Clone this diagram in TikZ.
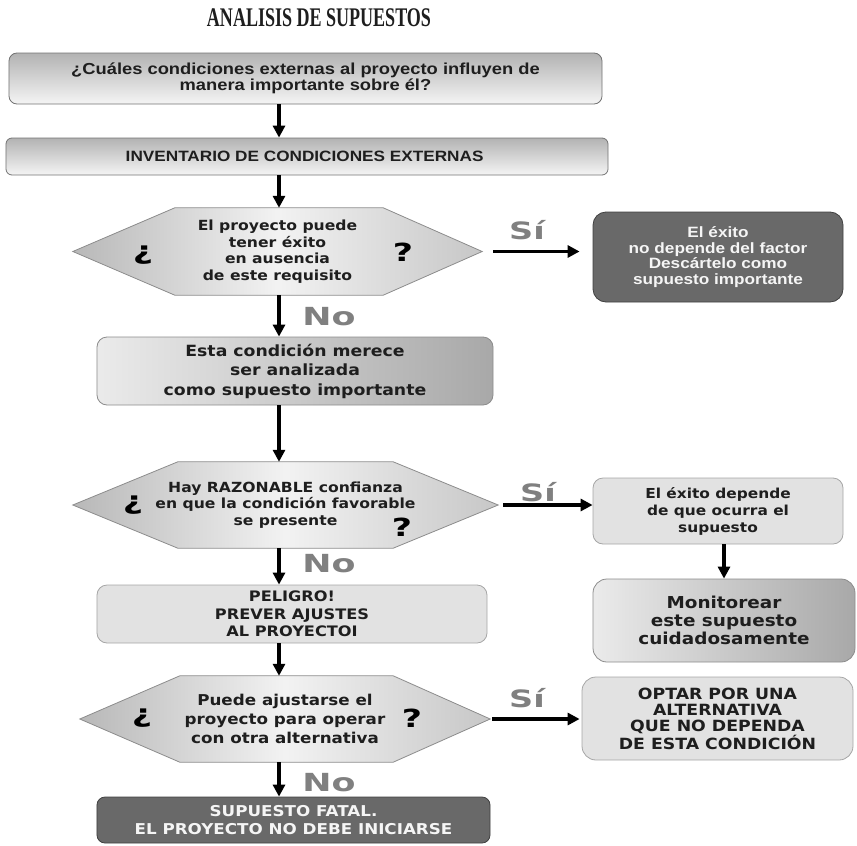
\documentclass[tikz,border=0pt]{standalone}
\usepackage{fontspec}
\usepackage{tikz}
\usetikzlibrary{arrows.meta, positioning, backgrounds}
\pgfdeclarelayer{background}
\pgfsetlayers{background,main}
\setmainfont{Liberation Sans}
\newfontfamily\titlefont[FakeStretch=0.67]{Liberation Serif}
\newfontfamily\broadfont[FakeStretch=1.15]{Liberation Sans}
\newfontfamily\widefont[FakeStretch=1.12]{DejaVu Sans}
\newfontfamily\blackfont[FakeStretch=1.4]{DejaVu Sans}
\definecolor{txtcol}{RGB}{30,30,30}
\definecolor{labcol}{RGB}{128,128,128}
\definecolor{darkcol}{RGB}{105,105,105}
\definecolor{flatcol}{RGB}{226,226,226}
\tikzset{
  gbox/.style={rectangle, rounded corners=8bp, align=center, inner sep=0pt,
    draw=black!55, line width=0.8bp, top color=black!30, bottom color=black!4,
    text=txtcol},
  sbox/.style={rectangle, rounded corners=10bp, align=center, inner sep=0pt,
    draw=black!45, line width=0.8bp, left color=black!8, right color=black!34,
    text=txtcol},
  flat/.style={rectangle, rounded corners=10bp, align=center, inner sep=0pt,
    draw=black!35, line width=0.8bp, fill=flatcol, text=txtcol},
  dark/.style={rectangle, rounded corners=10bp, align=center, inner sep=0pt,
    draw=black!75, line width=0.8bp, fill=darkcol, text=black!4},
  cond/.style={rectangle, align=center, inner sep=0pt, text=txtcol},
  hexfill/.style={draw=black!45, line width=0.8bp,
    left color=black!28, right color=black!22, middle color=black!5},
  qmark/.style={font=\blackfont\bfseries\fontsize{25}{25}\selectfont},
  nolabel/.style={font=\blackfont\bfseries\fontsize{25}{25}\selectfont, text=labcol},
  silabel/.style={font=\blackfont\bfseries\fontsize{24}{24}\selectfont, text=labcol},
  arr/.style={-{Triangle[length=12bp, width=12bp]}, line width=3.2bp},
}
\begin{document}
\begin{tikzpicture}[x=1bp, y=-1bp]
  \useasboundingbox (0,0) rectangle (857,846);

  \node[font=\titlefont\bfseries\fontsize{27}{27}\selectfont, text=txtcol]
    (title) at (319,18) {ANALISIS DE SUPUESTOS};

  % main column
  \node[gbox, minimum width=593bp, minimum height=51bp,
        font=\broadfont\bfseries\fontsize{16}{16.5}\selectfont] (ext) at (305.5,78.5) {
    ¿Cuáles condiciones externas al proyecto influyen de\\
    manera importante sobre él?
  };

  \node[gbox, rounded corners=6bp, minimum width=602bp, minimum height=37bp,
        font=\broadfont\bfseries\fontsize{15}{16}\selectfont] (inv) at (307,156.5) {
    INVENTARIO DE CONDICIONES EXTERNAS
  };

  \node[cond, minimum width=409bp, minimum height=87bp,
        font=\widefont\bfseries\fontsize{14}{16.5}\selectfont] (h1) at (277.5,251.5) {
    El proyecto puede\\tener éxito\\en ausencia\\de este requisito
  };

  \node[sbox, minimum width=396bp, minimum height=68bp,
        font=\widefont\bfseries\fontsize{15.5}{19.5}\selectfont] (anal) at (295,371) {
    Esta condición merece\\ser analizada\\como supuesto importante
  };

  \node[cond, minimum width=425bp, minimum height=86bp,
        font=\widefont\bfseries\fontsize{14}{16.5}\selectfont] (h2) at (285.5,505) {
    Hay RAZONABLE confianza\\en que la condición favorable\\se presente
  };

  \node[flat, minimum width=390bp, minimum height=58bp,
        font=\widefont\bfseries\fontsize{14.5}{17.5}\selectfont] (pel) at (292,614) {
    PELIGRO!\\PREVER AJUSTES\\AL PROYECTOI
  };

  \node[cond, minimum width=410bp, minimum height=86bp,
        font=\widefont\bfseries\fontsize{15}{19}\selectfont] (h3) at (285,719) {
    Puede ajustarse el\\proyecto para operar\\con otra alternativa
  };

  \node[dark, rounded corners=8bp, minimum width=393bp, minimum height=46bp,
        font=\widefont\bfseries\fontsize{15}{18}\selectfont] (fatal) at (293.5,820) {
    SUPUESTO FATAL.\\EL PROYECTO NO DEBE INICIARSE
  };

  % right column
  \node[dark, rounded corners=13bp, minimum width=250bp, minimum height=90bp,
        font=\broadfont\bfseries\fontsize{15}{15.5}\selectfont] (desc) at (718,257) {
    El éxito\\no depende del factor\\Descártelo como\\supuesto importante
  };

  \node[flat, minimum width=250bp, minimum height=66bp,
        font=\widefont\bfseries\fontsize{13.8}{17}\selectfont] (dep) at (718,511) {
    El éxito depende\\de que ocurra el\\supuesto
  };

  \node[sbox, rounded corners=14bp, minimum width=262bp, minimum height=83bp,
        font=\widefont\bfseries\fontsize{16.5}{18}\selectfont] (mon) at (724,620.5) {
    Monitorear\\este supuesto\\cuidadosamente
  };

  \node[flat, rounded corners=14bp, minimum width=271bp, minimum height=83bp,
        font=\widefont\bfseries\fontsize{15.5}{16.2}\selectfont] (opt) at (717.5,718.5) {
    OPTAR POR UNA\\ALTERNATIVA\\QUE NO DEPENDA\\DE ESTA CONDICIÓN
  };

  % decision outlines
  \begin{pgfonlayer}{background}
    \foreach \h/\l/\r in {h1/102/99, h2/105/105, h3/100/97}
      \shade[hexfill] (\h.west) -- ([xshift=\l bp]\h.north west)
        -- ([xshift=-\r bp]\h.north east) -- (\h.east)
        -- ([xshift=-\r bp]\h.south east) -- ([xshift=\l bp]\h.south west) -- cycle;
  \end{pgfonlayer}

  \node[qmark] (q1l) at (143,255) {¿};
  \node[qmark] (q1r) at (403,252) {?};
  \node[qmark] (q2l) at (133,505) {¿};
  \node[qmark] (q2r) at (402,527) {?};
  \node[qmark] (q3l) at (142,718) {¿};
  \node[qmark] (q3r) at (412,718) {?};

  \node[nolabel] (no1) at (329,317) {No};
  \node[nolabel] (no2) at (329,564) {No};
  \node[nolabel] (no3) at (329,783) {No};
  \node[silabel] (si1) at (527,230) {Sí};
  \node[silabel] (si2) at (538,492) {Sí};
  \node[silabel] (si3) at (527,698) {Sí};

  % main flow
  \coordinate (col) at (279,0);
  \foreach \a/\b in {ext/inv, inv/h1, h1/anal, anal/h2, h2/pel, pel/h3, h3/fatal}
    \draw[arr] (\a.south -| col) -- (\b.north -| col);

  % side branches
  \draw[arr] ([xshift=11bp]h1.east) -- ([xshift=-13bp]h1.east -| desc.west);
  \draw[arr] ([xshift=5bp]h2.east) -- (h2.east -| dep.west);
  \draw[arr] ([xshift=2bp]h3.east) -- ([xshift=-2bp]h3.east -| opt.west);
  \draw[arr] (dep.south -| mon.north) -- (mon.north);

\end{tikzpicture}
\end{document}
